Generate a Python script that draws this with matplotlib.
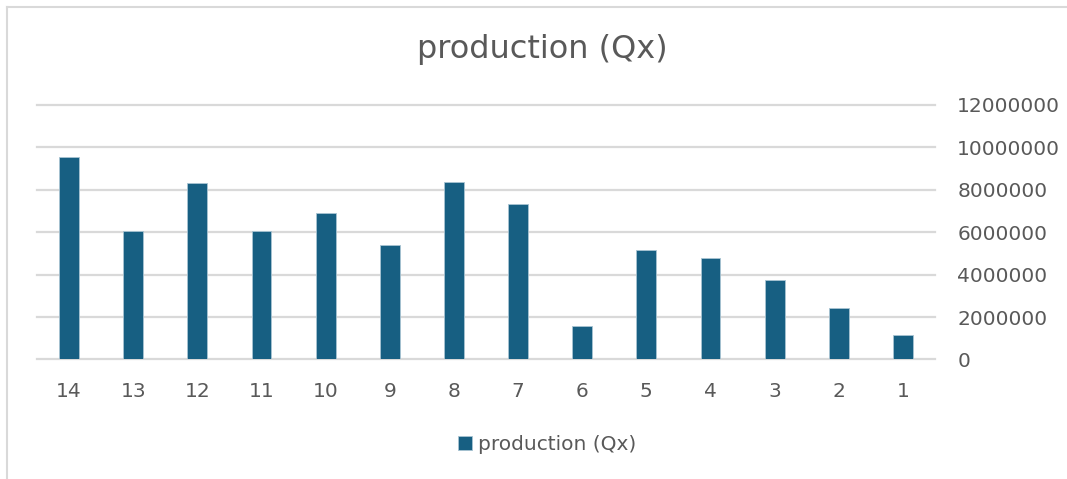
import matplotlib.pyplot as plt
from matplotlib.lines import Line2D

periods = ['14', '13', '12', '11', '10', '9', '8', '7', '6', '5', '4', '3', '2', '1']
production = [9550000, 6060000, 8320000, 6060000, 6910000, 5400000, 8350000,
              7310000, 1560000, 5140000, 4800000, 3750000, 2430000, 1160000]

bar_color = '#175f82'
text_color = '#595959'
grid_color = '#d9d9d9'

fig = plt.figure(figsize=(10.67, 4.79), dpi=100)
ax = fig.add_axes([0.0347, 0.2495, 0.8416, 0.5315])

x = range(len(periods))
ax.bar(x, production, width=0.31, color=bar_color, edgecolor='#a9c4d3',
       linewidth=0.6, label='production (Qx)', zorder=3)

ax.set_xlim(-0.5, len(periods) - 0.5)
ax.set_ylim(0, 12000000)
ax.set_yticks(range(0, 12000001, 2000000))
ax.set_yticklabels([str(v) for v in range(0, 12000001, 2000000)])
ax.set_xticks(list(x))
ax.set_xticklabels(periods)

ax.yaxis.tick_right()
ax.tick_params(axis='y', length=0, pad=16, labelsize=14.5, labelcolor=text_color)
ax.tick_params(axis='x', length=0, pad=16, labelsize=14.5, labelcolor=text_color)
for lbl in ax.get_yticklabels():
    lbl.set_horizontalalignment('left')

ax.grid(axis='y', color=grid_color, linewidth=1.6, zorder=0)
for gl in ax.get_ygridlines():
    gl.set_clip_on(False)
for side in ['top', 'left', 'right', 'bottom']:
    ax.spines[side].set_visible(False)

fig.text(0.508, 0.896, 'production (Qx)', ha='center', va='center',
         fontsize=23, color=text_color)

ax.legend(loc='center', bbox_to_anchor=(0.568, -0.335), frameon=False,
          fontsize=14.5, labelcolor=text_color, handlelength=0.7,
          handleheight=0.7, handletextpad=0.3)

# outer chart frame
fig.add_artist(Line2D([7 / 1067, 1], [1 - 7 / 479, 1 - 7 / 479],
                      transform=fig.transFigure, color=grid_color, linewidth=1.5))
fig.add_artist(Line2D([7 / 1067, 7 / 1067], [0, 1 - 7 / 479],
                      transform=fig.transFigure, color=grid_color, linewidth=1.5))

fig.savefig('out.png', dpi=100)
